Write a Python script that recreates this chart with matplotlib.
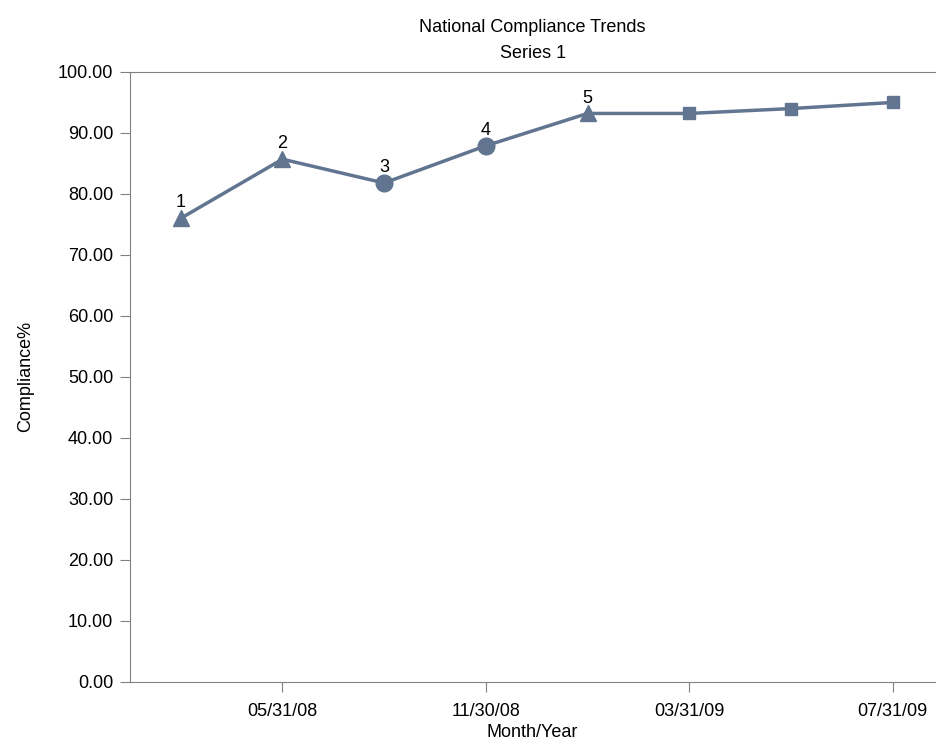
import numpy as np
import matplotlib.pyplot as plt

plt.rcParams['font.family'] = ['Liberation Sans', 'DejaVu Sans']

# Data
compliance = [76.0, 85.7, 81.8, 87.9, 93.2, 93.2, 94.0, 95.0]
point_labels = ['1', '2', '3', '4', '5', '', '', '']
markers = ['^', '^', 'o', 'o', '^', 's', 's', 's']
marker_sizes = [12, 12, 12, 12, 12, 8, 8, 8]
tick_idx = [1, 3, 5, 7]
tick_labels = ['05/31/08', '11/30/08', '03/31/09', '07/31/09']

color = '#617590'
x = np.arange(len(compliance))

fig = plt.figure(figsize=(9.41, 7.42), dpi=100)
ax = fig.add_axes([0.138, 0.081, 0.856, 0.822])

ax.plot(x, compliance, color=color, lw=2.5, zorder=2)
for xi, yi, m, ms, lab in zip(x, compliance, markers, marker_sizes, point_labels):
    ax.plot(xi, yi, marker=m, ms=ms, color=color, zorder=3)
    if lab:
        ax.annotate(lab, (xi, yi), xytext=(0, 5), textcoords='offset points',
                    ha='center', va='bottom', fontsize=13)

ax.set_xlim(-0.5, 7.42)
ax.set_ylim(0, 100)
ax.set_yticks(np.arange(0, 101, 10))
ax.set_yticklabels([f'{v:.2f}' for v in range(0, 101, 10)])
ax.set_xticks(tick_idx)
ax.set_xticklabels(tick_labels)
ax.tick_params(labelsize=13, color='#808080', length=7)
ax.tick_params(axis='x', pad=8)
ax.tick_params(axis='y', pad=5)

for s in ['left', 'bottom', 'top']:
    ax.spines[s].set_color('#808080')
ax.spines['right'].set_visible(False)

ax.set_title('National Compliance Trends\nSeries 1', fontsize=13, pad=10, linespacing=1.7)
ax.set_xlabel('Month/Year', fontsize=13, labelpad=3)
ax.set_ylabel('Compliance%', fontsize=13, labelpad=17)

fig.savefig('out.png', dpi=100)
